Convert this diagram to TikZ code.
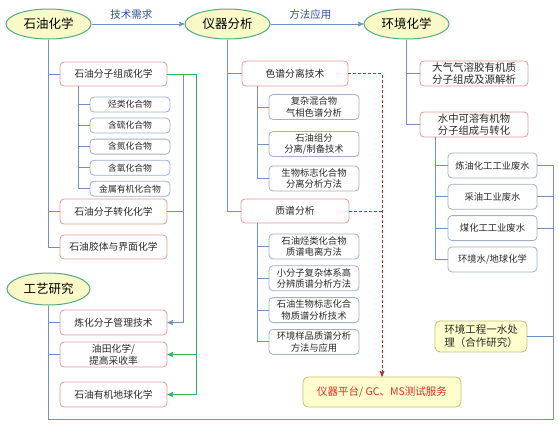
\documentclass[tikz,border=0pt]{standalone}
\usepackage{fontspec}
\setmainfont{Noto Sans CJK SC}
\usetikzlibrary{arrows,positioning,calc,shapes.geometric}
\definecolor{blueline}{RGB}{110,146,196}
\definecolor{greenline}{RGB}{40,180,90}
\definecolor{redrim}{RGB}{232,150,150}
\definecolor{grayrim}{RGB}{160,175,200}
\definecolor{topicfill}{RGB}{250,250,200}
\definecolor{topicrim}{RGB}{80,170,130}
\definecolor{yelfill}{RGB}{255,255,205}
\definecolor{yelrim}{RGB}{190,190,110}
\definecolor{reddash}{RGB}{200,40,40}
\definecolor{redtext}{RGB}{230,40,40}
\definecolor{labeltext}{RGB}{50,80,150}
\definecolor{boxtext}{RGB}{40,40,40}
\tikzset{
	%Define standard arrow tip
	>=stealth',
	%Define style for ellipses
	topic/.style={
		ellipse,
		draw=topicrim, fill=topicfill, line width=1pt,
		minimum width=85pt,
		minimum height=30pt,
		inner sep=0pt,
		font=\fontsize{12.5}{14}\selectfont},
	%Define style for boxes
	redbox/.style={
		rectangle,
		rounded corners=4pt,
		draw=redrim, fill=white, line width=0.8pt,
		minimum width=107pt,
		minimum height=25pt,
		inner sep=0pt,
		align=center, text=boxtext,
		font=\fontsize{9.8}{12}\selectfont},
	subbox/.style={
		rectangle,
		rounded corners=4pt,
		draw=grayrim, fill=white, line width=0.8pt,
		minimum width=90pt,
		minimum height=25pt,
		inner sep=0pt,
		align=center, text=boxtext,
		font=\fontsize{9.3}{11.5}\selectfont},
	tinybox/.style={
		subbox,
		minimum width=80pt,
		minimum height=15pt,
		font=\fontsize{8.8}{10}\selectfont},
	yelbox/.style={
		rectangle,
		rounded corners=5pt,
		draw=yelrim, fill=yelfill, line width=0.8pt,
		inner sep=0pt,
		font=\fontsize{10.5}{13}\selectfont},
	mylabel/.style={text=labeltext, font=\fontsize{10.5}{12}\selectfont},
	% Define line styles
	bline/.style={draw=blueline, line width=1pt},
	gline/.style={draw=greenline, line width=1pt},
	rdash/.style={draw=reddash, line width=1pt, dash pattern=on 3pt off 2pt}
}

\begin{document}
\begin{tikzpicture}[x=1pt,y=-1pt]
				\useasboundingbox (0,0) rectangle (558,424);
				% node Petroleum chemistry
				\node[topic] (petro) at (48.5,24) {石油化学};
				% node Instrumental analysis
				\node[topic] (instr) at (227.5,24) {仪器分析};
				% node Environmental chemistry
				\node[topic] (envir) at (406.5,24) {环境化学};
				% node Process research
				\node[topic, minimum width=83pt, minimum height=32pt] (craft) at (48.5,289) {工艺研究};
				% left column
				\node[redbox, minimum height=24pt] (comp) at (113.5,74) {石油分子组成化学};
				\node[tinybox] (hc1) at (130,104.5) {烃类化合物};
				\node[tinybox, below=5.25pt of hc1] (hc2) {含硫化合物};
				\node[tinybox, below=5.25pt of hc2] (hc3) {含氮化合物};
				\node[tinybox, below=5.25pt of hc3] (hc4) {含氧化合物};
				\node[tinybox, below=5.25pt of hc4] (hc5) {金属有机化合物};
				\node[redbox] (trans) at (113.5,211.5) {石油分子转化化学};
				\node[redbox, minimum height=24pt] (colloid) at (113.5,247) {石油胶体与界面化学};
				\node[redbox] (refine) at (113.5,322.5) {炼化分子管理技术};
				\node[redbox] (oilfield) at (113.5,354.5) {油田化学/\\提高采收率};
				\node[redbox] (geo) at (113.5,394.5) {石油有机地球化学};
				% middle column
				\node[redbox, minimum width=106pt] (chrom) at (295,73.5) {色谱分离技术};
				\node[subbox] (cs1) at (314,107) {复杂混合物\\气相色谱分析};
				\node[subbox] (cs2) at (314,144) {石油组分\\分离/制备技术};
				\node[subbox] (cs3) at (314,178.5) {生物标志化合物\\分离分析方法};
				\node[redbox, minimum width=108pt, minimum height=24pt] (ms) at (295,211) {质谱分析};
				\node[subbox] (ms1) at (314,246.5) {石油烃类化合物\\质谱电离方法};
				\node[subbox, below=6pt of ms1] (ms2) {小分子复杂体系高\\分辨质谱分析方法};
				\node[subbox, below=6pt of ms2] (ms3) {石油生物标志化合\\物质谱分析技术};
				\node[subbox, below=6pt of ms3] (ms4) {环境样品质谱分析\\方法与应用};
				% node platform
				\node[yelbox, minimum width=158pt, minimum height=30pt, text=redtext] (platform) at (382,392) {仪器平台/ GC、MS测试服务};
				% right column
				\node[redbox, minimum width=108pt, font=\fontsize{10.5}{12}\selectfont] (aero) at (474,73.5) {大气气溶胶有机质\\分子组成及源解析};
				\node[redbox, minimum width=108pt, font=\fontsize{10.3}{12}\selectfont] (water) at (474,124.5) {水中可溶有机物\\分子组成与转化};
				\node[subbox, minimum width=89pt] (ww1) at (492.5,165.5) {炼油化工工业废水};
				\node[subbox, minimum width=89pt, below=5.5pt of ww1] (ww2) {采油工业废水};
				\node[subbox, minimum width=89pt, below=5.5pt of ww2] (ww3) {煤化工工业废水};
				\node[subbox, minimum width=89pt, below=5.5pt of ww3] (ww4) {环境水/地球化学};
				% node water treatment
				\node[yelbox, minimum width=92pt, minimum height=31pt, align=left, text=boxtext] (envproc) at (481,336.5) {环境工程一水处\\理（合作研究）};
				% bus coordinates
				\coordinate (ltrunk) at (78,0);
				\coordinate (mtrunk) at (257,0);
				\coordinate (rtrunk) at (435,0);
				\coordinate (bbus) at (183,0);
				\coordinate (gbus) at (196.5,0);
				\coordinate (rbus) at (553,419);
				\coordinate (lbus) at (48.5,419);
				% top arrows
				\draw[bline,->] (petro) -- (instr) node[mylabel, pos=0.43, above=1pt] (need) {技术需求};
				\draw[bline,->] (instr) -- (envir) node[mylabel, pos=0.43, above=1pt] (apply) {方法应用};
				% tree lines
				\draw[bline] (petro.south) |- (colloid.west);
				\draw[bline] (petro.south) |- (comp.west);
				\draw[bline] (petro.south) |- (trans.west);
				\draw[bline] (ltrunk |- comp.south) |- (hc5.west);
				\foreach \n in {hc1,hc2,hc3,hc4}
					\draw[bline] (ltrunk |- \n.west) -- (\n.west);
				\draw[bline] (instr.south) |- (ms.west);
				\draw[bline] (instr.south) |- (chrom.west);
				\draw[bline] (mtrunk |- chrom.south) |- (cs3.west);
				\foreach \n in {cs1,cs2}
					\draw[bline] (mtrunk |- \n.west) -- (\n.west);
				\draw[bline] (mtrunk |- ms.south) |- (ms4.west);
				\foreach \n in {ms1,ms2,ms3}
					\draw[bline] (mtrunk |- \n.west) -- (\n.west);
				\draw[bline] (envir.south) |- (water.west);
				\draw[bline] (envir.south) |- (aero.west);
				\draw[bline] (rtrunk |- water.south) |- (ww4.west);
				\foreach \n in {ww1,ww2,ww3}
					\draw[bline] (rtrunk |- \n.west) -- (\n.west);
				% loop back to process research
				\draw[bline] (ww1.east) -| (rbus) -- (lbus) -- (craft.south);
				\foreach \n in {ww2,ww3,envproc}
					\draw[bline] (\n.east) -- (\n.east -| rbus);
				\draw[bline] (craft.south) |- (refine.west);
				\draw[bline] (craft.south) |- (oilfield.west);
				% links to process research
				\draw[bline,->] (comp.east) -| (bbus |- refine.east) -- (refine.east);
				\draw[bline] (trans.east) -- (bbus |- trans.east);
				\draw[gline,->] (comp.east) -| (gbus |- oilfield.east) -- (oilfield.east);
				\draw[gline,->] (gbus |- oilfield.east) |- (geo.east);
				% dashed links to platform
				\draw[rdash,->] (chrom.east) -| (platform.north);
				\draw[rdash] (ms.east) -- (ms.east -| platform.north);
\end{tikzpicture}
\end{document}
